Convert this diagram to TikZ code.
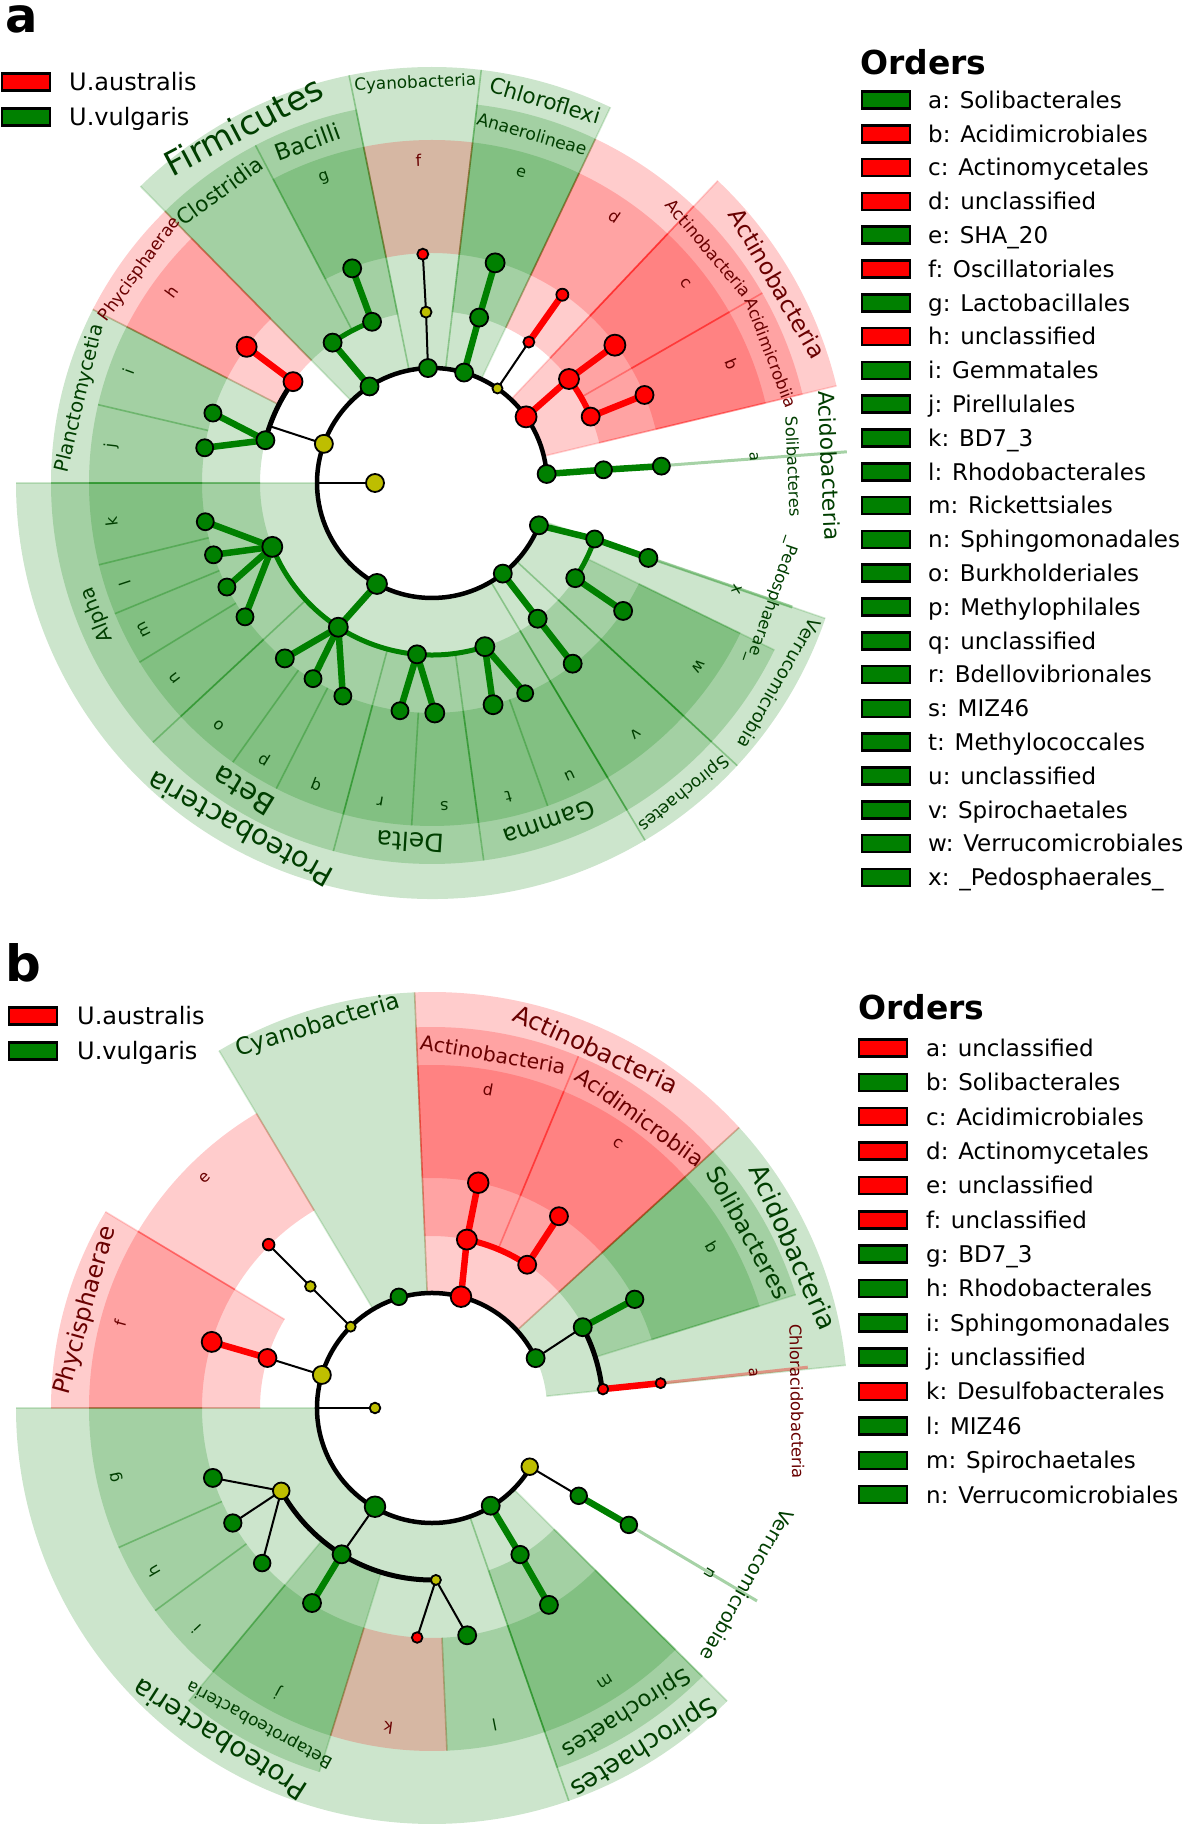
\documentclass[tikz,border=0pt]{standalone}
\usepackage{fontspec}
\setmainfont{DejaVu Sans}
\definecolor{cG}{RGB}{0,128,0}
\definecolor{cR}{RGB}{255,0,0}
\definecolor{cY}{RGB}{190,190,0}
\definecolor{tG}{RGB}{0,62,0}
\definecolor{tR}{RGB}{105,0,0}
\newcommand\fs[1]{\fontsize{#1}{#1}\selectfont}
\newcommand\clsector[5]{%
  \fill[fill=#5, fill opacity=0.2] (#1:#3pt) arc[start angle=#1, end angle=#2, radius=#3pt] -- (#2:#4pt) arc[start angle=#2, end angle=#1, radius=#4pt] -- cycle;
  \draw[draw=#5, draw opacity=0.17, line width=1.6pt] (#1:#3pt) -- (#1:#4pt) (#2:#3pt) -- (#2:#4pt);}
\tikzset{
  dot/.style={draw=black, line width=1.8pt},
  clink/.style={line width=6.5pt},
  tlink/.style={draw=black, line width=2pt},
  alink/.style={line width=5pt},
  lbl/.style={inner sep=0pt},
  legbox/.style={draw=black, line width=2.5pt, minimum width=48pt, minimum height=17pt, inner sep=0pt},
  legtxt/.style={anchor=base west, inner sep=0pt, font=\fs{23}},
  thinsec/.style={line width=3pt, opacity=0.35},
}
\begin{document}
\begin{tikzpicture}[x=1pt,y=1pt]
\useasboundingbox (0,0) rectangle (1183,1824);
\fill[white] (0,0) rectangle (1183,1824);

% ================= PANEL A =================
\begin{scope}[shift={(432,1341)}]
\foreach \xa/\xb/\xc in {13.5/46.6/cR, 64.6/83.2/cG, 83.2/101.5/cG, 101.5/134.5/cG, 180/300.8/cG, 300.8/317.2/cG, 317.2/341/cG}{\clsector{\xa}{\xb}{115}{416}{\xc}}
\foreach \xa/\xb/\xc in {13.5/29.9/cR, 29.9/46.6/cR, 46.6/64.6/cR, 64.6/83.2/cG, 101.5/117.6/cG, 117.6/134.5/cG, 134.5/152.9/cR, 152.9/180/cG, 180/222.9/cG, 222.9/255/cG, 255/277.8/cG, 277.8/300.8/cG, 300.8/317.2/cG, 317.2/334/cG}{\clsector{\xa}{\xb}{172}{381}{\xc}}
\foreach \xa/\xb/\xc in {13.5/29.9/cR, 29.9/46.6/cR, 46.6/64.6/cR, 64.6/83.2/cG, 83.2/101.5/cR, 101.5/117.6/cG, 134.5/152.9/cR, 152.9/166.8/cG, 166.8/180/cG, 180/193.8/cG, 193.8/202.4/cG, 202.4/211.5/cG, 211.5/222.9/cG, 222.9/234.5/cG, 234.5/243/cG, 243/255/cG, 255/266.6/cG, 266.6/277.8/cG, 277.8/289.7/cG, 289.7/300.8/cG, 300.8/317.2/cG, 317.2/334/cG}{\clsector{\xa}{\xb}{230}{343}{\xc}}
\draw[thinsec, cG] (4.3:230pt) -- (4.3:416pt);
\draw[thinsec, cG] (341:230pt) -- (341:381pt);

\foreach \xn/\xa/\xr in {rt/180/57, rtc/180/115,
  acP/4.5/115, acC/4.4/172, aca/4.2/230,
  atP/35.1/115, atC/37.2/172, atD/22.7/172, atc/37/229, atb/22.5/230,
  udP/55.3/115, udC/55.5/171, udd/55.3/229,
  chP/73.8/115, chC/74.1/172, che/74/229,
  cyP/92/115, cyC/92/171, cyf/92.3/229,
  fiP/122.9/115, fiC/125.3/172, fiB/110.4/172, fig/110.4/229,
  plP/160.1/115, plX/160.7/172, phC/143.9/172, phh/143.7/230, pcC/165.6/172, pci/162.3/230, pcj/171.2/230,
  prP/241.4/115, alC/201.8/172, alk/189.7/230, all/198.2/230, alm/206.9/230, aln/215.6/230,
  beC/237/172, beo/230/229, bep/238.7/229, beq/247.3/231,
  deC/265/172, der/262/230, des/270.7/230, gaC/287.9/172, gat/285.4/230, gau/293.9/230,
  spP/308/115, spC/307.9/172, spv/307.9/229,
  veP/338.4/115, vxC/341/172, vex/340.9/229, vwC/326.4/172, vew/326.2/230}{\coordinate (a-\xn) at (\xa:\xr pt);}

\draw[alink, line width=4.5pt] (a-acP) arc[start angle=4.5, end angle=338.4, radius=115pt];
\draw[clink, cR, line width=6pt] (a-atC) arc[start angle=37.2, end angle=22.7, radius=172pt];
\draw[alink, cG] (a-fiC) arc[start angle=125.3, end angle=110.4, radius=172pt];
\draw[alink, black] (a-phC) arc[start angle=143.9, end angle=165.6, radius=172pt];
\draw[alink, cG] (a-alC) arc[start angle=201.8, end angle=287.9, radius=172pt];
\draw[alink, cG] (a-vxC) arc[start angle=341, end angle=326.4, radius=172pt];

\foreach \xu/\xv/\xc in {acP/acC/cG, acC/aca/cG, atP/atC/cR, atC/atc/cR, atD/atb/cR, udC/udd/cR, chP/chC/cG, chC/che/cG, fiP/fiC/cG, fiB/fig/cG, phC/phh/cR, pcC/pci/cG, pcC/pcj/cG, prP/beC/cG, alC/alk/cG, alC/all/cG, alC/alm/cG, alC/aln/cG, beC/beo/cG, beC/bep/cG, beC/beq/cG, deC/der/cG, deC/des/cG, gaC/gat/cG, gaC/gau/cG, spP/spC/cG, spC/spv/cG, veP/vxC/cG, vxC/vex/cG, vwC/vew/cG}{\draw[clink, draw=\xc] (a-\xu) -- (a-\xv);}
\foreach \xu/\xv in {rtc/rt, udP/udC, cyP/cyC, cyC/cyf, plP/plX}{\draw[tlink] (a-\xu) -- (a-\xv);}

\foreach \xn/\xs/\xc in {rt/9/cY, acP/9/cG, acC/8.5/cG, aca/8.5/cG,
  atP/10.5/cR, atC/10/cR, atD/9/cR, atc/10.5/cR, atb/9/cR,
  udP/5/cY, udC/5.5/cR, udd/6/cR, chP/9/cG, chC/9/cG, che/9.5/cG,
  cyP/9/cG, cyC/5.5/cY, cyf/5.5/cR, fiP/9/cG, fiC/9/cG, fiB/9/cG, fig/9/cG,
  plP/9/cY, phC/9.5/cR, phh/10/cR, pcC/9/cG, pci/8.5/cG, pcj/8.5/cG,
  prP/10/cG, alC/10/cG, alk/8.5/cG, all/8.5/cG, alm/8.5/cG, aln/8.5/cG,
  beC/9.5/cG, beo/9/cG, bep/8.5/cG, beq/8.5/cG, deC/9/cG, der/8.5/cG, des/9.5/cG,
  gaC/9.5/cG, gat/9.5/cG, gau/8/cG, spP/9/cG, spC/9/cG, spv/9/cG,
  veP/9/cG, vxC/8.5/cG, vex/9/cG, vwC/9/cG, vew/9/cG}{\filldraw[dot, fill=\xc] (a-\xn) circle[radius=\xs pt];}

\foreach \xa/\xr/\xs/\xc/\xt [count=\nn] in {2.5/398/21.8/tG/Acidobacteria, 30/399/23.3/tR/Actinobacteria, 73.5/399/21.5/tG/Chloroflexi, 92.4/400/16.8/tG/Cyanobacteria, 117.8/404/33.7/tG/Firmicutes, 241/396/28.4/tG/Proteobacteria, 309/399/17/tG/Spirochaetes, 330/401/18/tG/Verrucomicrobia,
  21/363/16.6/tR/Acidimicrobiia, 40.3/363/16.8/tR/Actinobacteria, 74/363/17.2/tG/Anaerolineae, 110/363/23/tG/Bacilli, 126/361/21.3/tG/Clostridia, 143.8/362/17/tR/Phycisphaerae, 166.5/362/19.7/tG/Planctomycetia, 201.5/360/20/tG/Alpha, 238.5/361/29/tG/Beta, 266.5/360/25.3/tG/Delta, 289/360/24.2/tG/Gamma, 2.6/362/16.3/tG/Solibacteres, 341/360/16.4/tG/\_Pedosphaerae\_,
  4.6/323/15/tG/a, 21.7/323/16/tR/b, 38.2/323/16/tR/c, 55.6/323/16/tR/d, 74/323/16/tG/e, 92.4/323/16/tR/f, 109.5/323/16/tG/g, 143.7/323/16/tR/h, 159.8/323/16/tG/i, 173.4/323/16/tG/j, 186.9/323/16/tG/k, 198.1/323/16/tG/l, 207/323/16/tG/m, 217.2/323/16/tG/n, 228.7/323/16/tG/o, 238.7/323/16/tG/p, 249/323/16/tG/q, 260.8/323/16/tG/r, 272.2/323/16/tG/s, 283.7/323/16/tG/t, 295.2/323/16/tG/u, 309/323/16/tG/v, 325.5/323/16/tG/w, 340.8/323/16/tG/x}{\node[lbl, rotate=\xa-90, text=\xc, font=\fs{\xs}] (a-t\nn) at (\xa:\xr pt) {\xt};}
\end{scope}

% ================= PANEL B =================
\begin{scope}[shift={(432,416)}]
\foreach \xa/\xb/\xc in {5.9/42.4/cG, 42.4/92.4/cR, 92.4/120.8/cG, 180/289.2/cG, 289.2/315.2/cG}{\clsector{\xa}{\xb}{115}{416}{\xc}}
\foreach \xa/\xb/\xc in {17.3/42.4/cG, 42.4/67.4/cR, 67.4/92.4/cR, 149/180/cR, 230.3/252.8/cG, 289.2/315.2/cG}{\clsector{\xa}{\xb}{172}{381}{\xc}}
\foreach \xa/\xb/\xc in {17.3/42.4/cG, 42.4/67.4/cR, 67.4/92.4/cR, 120.8/149/cR, 149/180/cR, 180/204/cG, 204/216.2/cG, 216.2/230.3/cG, 230.3/252.8/cG, 252.8/272.5/cR, 272.5/289.2/cG, 289.2/315.2/cG}{\clsector{\xa}{\xb}{230}{343}{\xc}}
\draw[thinsec, cR] (6.2:230pt) -- (6.2:378pt);
\draw[thinsec, cG] (329.3:229pt) -- (329.3:378pt);

\foreach \xn/\xa/\xr in {rt/180/57, rtc/180/115,
  acP/25.7/115, soC/28.2/171, sob/28.2/230, caC/6.3/172, caa/6.2/230,
  atP/75.4/115, atC/78.3/172, atd/78.4/230, adC/56.4/172, adc/56.5/230,
  cyP/106.6/116, uxP/135/115, uxC/135/172, uxe/135/231,
  plP/163.3/115, phC/163.1/172, phf/163.3/230,
  prP/240/114, alC/208.8/172, alg/197.7/230, alh/210/230, ali/222.4/230,
  beC/238.3/172, bej/238.4/229, deC/271.3/172, dek/266.3/230, del/278.8/230,
  spP/301/114, spC/301/171, spm/300.7/229, veP/329/114, veC/329.1/171, ven/329.3/229}{\coordinate (b-\xn) at (\xa:\xr pt);}

\draw[alink, line width=4.5pt] (b-acP) arc[start angle=25.7, end angle=329, radius=115pt];
\draw[alink, black] (b-soC) arc[start angle=28.2, end angle=6.3, radius=172pt];
\draw[clink, cR, line width=6pt] (b-atC) arc[start angle=78.3, end angle=56.4, radius=172pt];
\draw[alink, black] (b-alC) arc[start angle=208.8, end angle=271.3, radius=172pt];

\foreach \xu/\xv/\xc in {soC/sob/cG, caC/caa/cR, atP/atC/cR, atC/atd/cR, adC/adc/cR, phC/phf/cR, beC/bej/cG, spP/spC/cG, spC/spm/cG, veC/ven/cG}{\draw[clink, draw=\xc] (b-\xu) -- (b-\xv);}
\foreach \xu/\xv in {rtc/rt, acP/soC, uxP/uxC, uxC/uxe, plP/phC, prP/beC, alC/alg, alC/alh, alC/ali, deC/dek, deC/del, veP/veC}{\draw[tlink] (b-\xu) -- (b-\xv);}

\foreach \xn/\xs/\xc in {rt/5.3/cY, acP/9/cG, soC/9/cG, sob/8.7/cG, caC/5.3/cR, caa/5/cR,
  atP/10.3/cR, atC/10/cR, atd/10.3/cR, adC/9/cR, adc/9/cR, cyP/8.3/cG,
  uxP/5/cY, uxC/5.3/cY, uxe/5.8/cR, plP/9/cY, phC/9/cR, phf/10/cR,
  prP/10.3/cG, alC/8.3/cY, alg/9/cG, alh/8.7/cG, ali/8.3/cG, beC/9/cG, bej/9/cG,
  deC/5/cY, dek/5.3/cR, del/9/cG, spP/9/cG, spC/8.7/cG, spm/9/cG,
  veP/8.3/cY, veC/8.3/cG, ven/8.3/cG}{\filldraw[dot, fill=\xc] (b-\xn) circle[radius=\xs pt];}

\foreach \xa/\xr/\xs/\xc/\xt [count=\nn] in {24/396/26/tG/Acidobacteria, 65.4/395/24.6/tR/Actinobacteria, 106.6/399/23.5/tG/Cyanobacteria, 237.4/394/27.5/tG/Proteobacteria, 302/399/25.7/tG/Spirochaetes,
  1/365/16.4/tR/Chloracidobacteria, 29/362/23.9/tG/Solibacteres, 80.2/359/20.3/tR/Actinobacteria, 54.4/358/21.7/tR/Acidimicrobiia, 164.3/360/23.7/tR/Phycisphaerae, 241.4/360/16.9/tG/Betaproteobacteria, 302.5/361/22.5/tG/Spirochaetes, 330.7/362/19.4/tG/Verrucomicrobiae,
  6.2/323/15/tR/a, 29.9/323/16/tG/b, 54.9/323/16/tR/c, 80/323/16/tR/d, 134.7/323/16/tR/e, 164.7/323/16/tR/f, 192.3/323/16/tG/g, 210.4/323/16/tG/h, 223.1/323/16/tG/i, 241.5/323/16/tG/j, 262.2/323/16/tR/k, 281.2/323/16/tG/l, 302.3/323/16/tG/m, 329.3/323/16/tG/n}{\node[lbl, rotate=\xa-90, text=\xc, font=\fs{\xs}] (b-t\nn) at (\xa:\xr pt) {\xt};}
\end{scope}

% ================= LEGENDS =================
\node[font=\bfseries\fs{48}, inner sep=0pt, anchor=base] (labA) at (22,1791) {a};
\node[font=\bfseries\fs{50}, inner sep=0pt, anchor=base] (labB) at (23,842) {b};

\node[legbox, fill=cR] (ga-r) at (26,1742) {};
\node[legtxt, font=\fs{24}] (ga-rt) at (69,1733.2) {U.australis};
\node[legbox, fill=cG] (ga-g) at (26,1707) {};
\node[legtxt, font=\fs{24}] (ga-gt) at (69,1698.2) {U.vulgaris};

\node[legbox, fill=cR] (gb-r) at (33,808) {};
\node[legtxt, font=\fs{24}] (gb-rt) at (77,799.2) {U.australis};
\node[legbox, fill=cG] (gb-g) at (33,773) {};
\node[legtxt, font=\fs{24}] (gb-gt) at (77,764.2) {U.vulgaris};

\node[anchor=base west, inner sep=0pt, font=\bfseries\fs{33}] (oa-title) at (860,1749) {Orders};
\foreach \xt/\xc [count=\nn from 0] in {{a: Solibacterales}/cG, {b: Acidimicrobiales}/cR, {c: Actinomycetales}/cR, {d: unclassified}/cR, {e: SHA\_20}/cG, {f: Oscillatoriales}/cR, {g: Lactobacillales}/cG, {h: unclassified}/cR, {i: Gemmatales}/cG, {j: Pirellulales}/cG, {k: BD7\_3}/cG, {l: Rhodobacterales}/cG, {m: Rickettsiales}/cG, {n: Sphingomonadales}/cG, {o: Burkholderiales}/cG, {p: Methylophilales}/cG, {q: unclassified}/cG, {r: Bdellovibrionales}/cG, {s: MIZ46}/cG, {t: Methylococcales}/cG, {u: unclassified}/cG, {v: Spirochaetales}/cG, {w: Verrucomicrobiales}/cG, {x: \_Pedosphaerales\_}/cG}{
  \pgfmathsetmacro\yy{1724-33.8*\nn}
  \node[legbox, fill=\xc] (oa-b\nn) at (886,\yy) {};
  \node[legtxt] (oa-t\nn) at (928,\yy-8.4) {\xt};
}

\node[anchor=base west, inner sep=0pt, font=\bfseries\fs{33}] (ob-title) at (858,804) {Orders};
\foreach \xt/\xc [count=\nn from 0] in {{a: unclassified}/cR, {b: Solibacterales}/cG, {c: Acidimicrobiales}/cR, {d: Actinomycetales}/cR, {e: unclassified}/cR, {f: unclassified}/cR, {g: BD7\_3}/cG, {h: Rhodobacterales}/cG, {i: Sphingomonadales}/cG, {j: unclassified}/cG, {k: Desulfobacterales}/cR, {l: MIZ46}/cG, {m: Spirochaetales}/cG, {n: Verrucomicrobiales}/cG}{
  \pgfmathsetmacro\yy{776-34.36*\nn}
  \node[legbox, fill=\xc] (ob-b\nn) at (883,\yy) {};
  \node[legtxt] (ob-t\nn) at (926,\yy-8.4) {\xt};
}
\end{tikzpicture}
\end{document}
